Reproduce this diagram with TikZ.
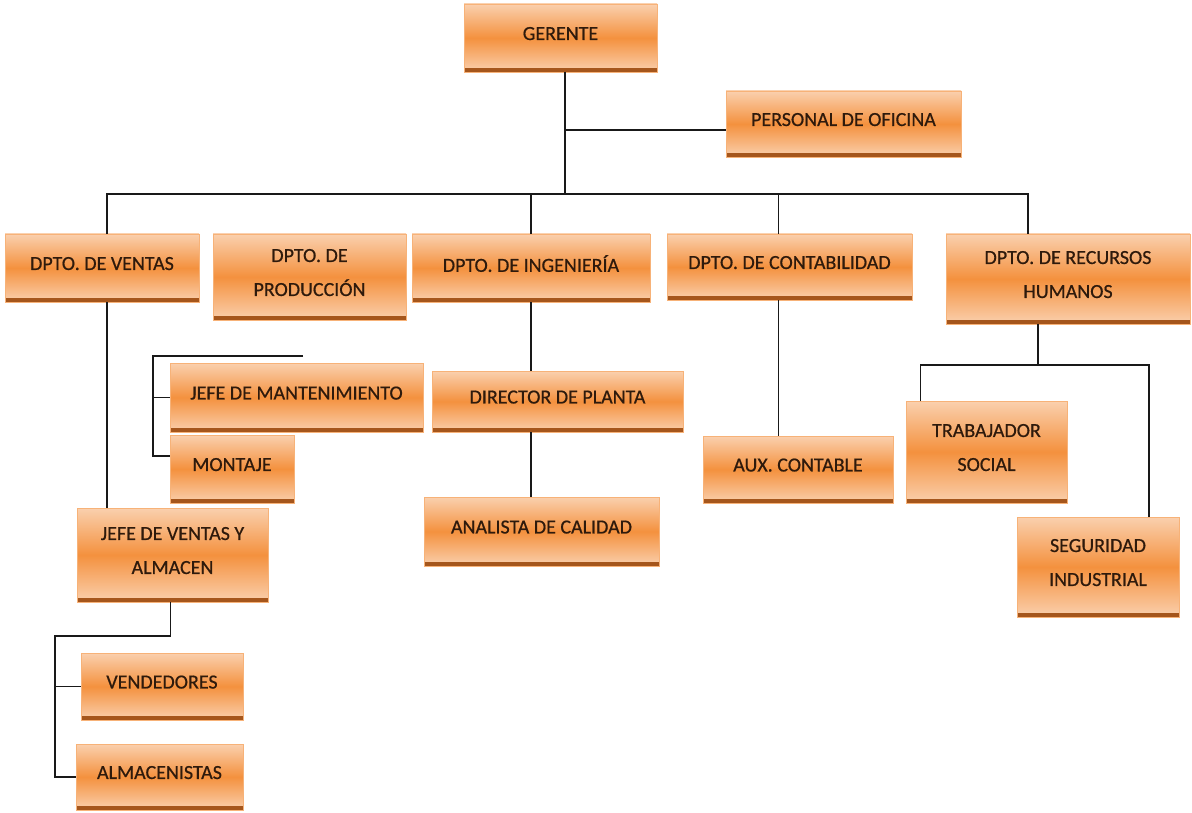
\documentclass[tikz,border=0pt]{standalone}
\usepackage{fontspec}
\setmainfont{Carlito}[FakeBold=0.6]
\definecolor{naranja}{HTML}{F4913E}
\definecolor{claro}{HTML}{FAD0AE}
\definecolor{borde}{HTML}{A5561C}
\definecolor{texto}{HTML}{2E1A0C}
\tikzset{
  puesto/.style={rectangle, inner sep=0pt, outer sep=0pt, align=center,
    draw=naranja!70, line width=0.6pt,
    top color=claro, bottom color=claro, middle color=naranja,
    text=texto, font=\fontsize{20}{34}\selectfont, text depth=9pt,
    path picture={\draw[borde, line width=8pt]
      (path picture bounding box.south west) -- (path picture bounding box.south east);}},
  enlace/.style={draw=black!90, line width=1.8pt}
}
\begin{document}
\begin{tikzpicture}[x=1pt, y=-1pt]
      \useasboundingbox (0,0) rectangle (1192,813);
      % cajas
      \node[puesto, minimum width=193pt, minimum height=68pt] (ger) at (560.5,38) {GERENTE};
      \node[puesto, minimum width=235pt, minimum height=66pt] (ofi) at (843.5,124) {PERSONAL DE OFICINA};
      \node[puesto, minimum width=194pt, minimum height=68pt] (ven) at (102,268) {DPTO. DE VENTAS};
      \node[puesto, minimum width=193pt, minimum height=86pt] (pro) at (309.5,277) {DPTO. DE\\PRODUCCIÓN};
      \node[puesto, minimum width=238pt, minimum height=68pt] (ing) at (531,268) {DPTO. DE INGENIERÍA};
      \node[puesto, minimum width=245pt, minimum height=66pt] (con) at (789.5,267) {DPTO. DE CONTABILIDAD};
      \node[puesto, minimum width=244pt, minimum height=90pt] (rh) at (1068,279) {DPTO. DE RECURSOS\\HUMANOS};
      \node[puesto, minimum width=253pt, minimum height=69pt] (man) at (296.5,397.5) {JEFE DE MANTENIMIENTO};
      \node[puesto, minimum width=124pt, minimum height=68pt] (mon) at (232,469) {MONTAJE};
      \node[puesto, minimum width=251pt, minimum height=61pt] (dir) at (557.5,401.5) {DIRECTOR DE PLANTA};
      \node[puesto, minimum width=190pt, minimum height=67pt] (aux) at (798,469.5) {AUX. CONTABLE};
      \node[puesto, minimum width=161pt, minimum height=102pt] (tra) at (986.5,452) {TRABAJADOR\\SOCIAL};
      \node[puesto, minimum width=162pt, minimum height=100pt] (seg) at (1098,567) {SEGURIDAD\\INDUSTRIAL};
      \node[puesto, minimum width=191pt, minimum height=94pt] (jv) at (172.5,555) {JEFE DE VENTAS  Y\\ALMACEN};
      \node[puesto, minimum width=235pt, minimum height=69pt] (ana) at (541.5,531.5) {ANALISTA DE CALIDAD};
      \node[puesto, minimum width=162pt, minimum height=67pt] (vnd) at (162,686.5) {VENDEDORES};
      \node[puesto, minimum width=167pt, minimum height=66pt] (alm) at (159.5,777) {ALMACENISTAS};
      % puntos de union
      \coordinate (bus) at (565,194);
      \coordinate (rhbus) at (1038,365);
      \coordinate (mtop) at (303,356);
      \coordinate (mbot) at (153,456);
      \coordinate (jvbus) at (55,636);
      % lineas
      \begin{scope}[enlace]
        \draw ([xshift=4.5pt]ger.south) -- (bus);
        \draw ([xshift=4.5pt]ger.south) |- ([yshift=-6pt]ofi.west);
        \draw ([xshift=5pt]ven.north) |- (bus) -| ([xshift=-40pt]rh.north);
        \draw (ing.north) -- (ing.north |- bus);
        \draw ([xshift=-11pt]con.north) -- ([xshift=-11pt]con.north |- bus);
        \draw (ing.south) -- (ing.south |- dir.north);
        \draw (ing.south |- dir.south) -- (ing.south |- ana.north);
        \draw ([xshift=-11pt]con.south) -- ([xshift=-11pt]con.south |- aux.north);
        \draw ([xshift=-30pt]rh.south) -- (rhbus);
        \draw ([xshift=-66pt]tra.north) |- (rhbus) -| ([xshift=51pt]seg.north);
        \draw (mtop) -| (mbot) -- (mbot -| mon.west);
        \draw (mbot |- man.west) -- (man.west);
        \draw ([xshift=5pt]ven.south) -- ([xshift=5pt]ven.south |- jv.north);
        \draw ([xshift=-2pt]jv.south) |- (jvbus) -- (jvbus |- alm.west) -- (alm.west);
        \draw (jvbus |- vnd.west) -- (vnd.west);
      \end{scope}
    \end{tikzpicture}
\end{document}
